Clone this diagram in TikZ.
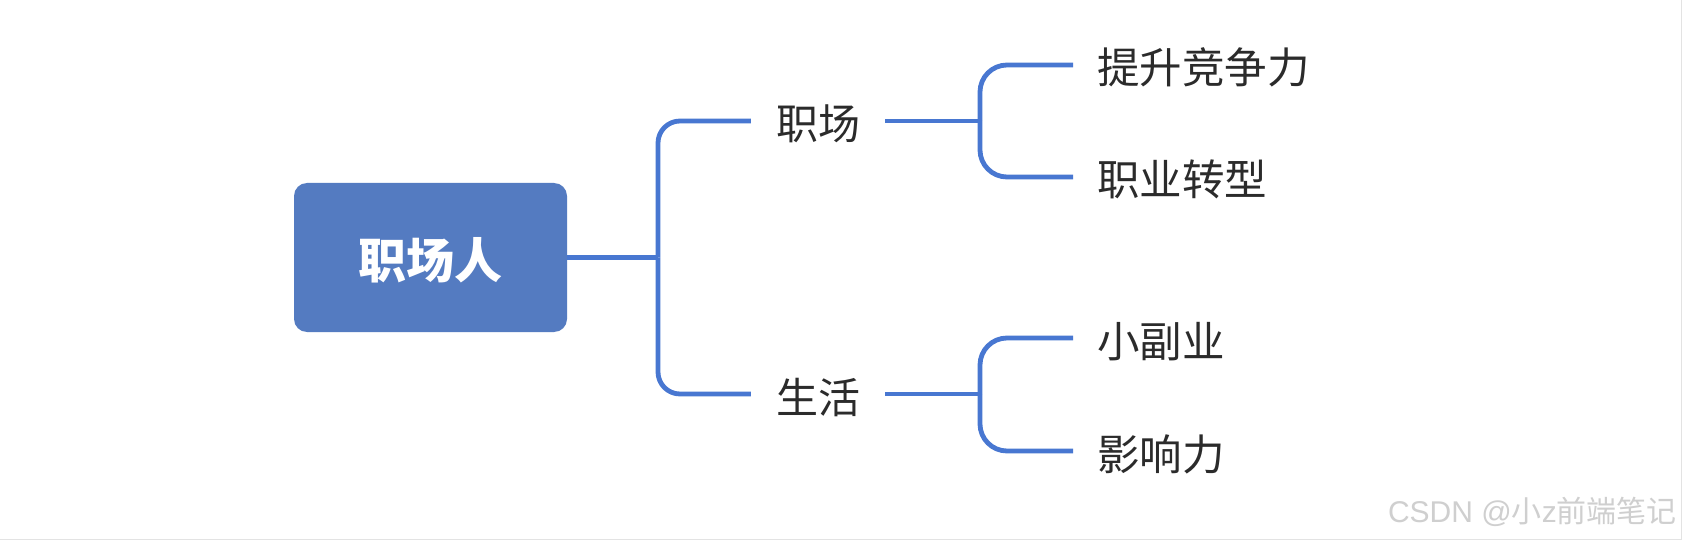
\documentclass[tikz,border=0pt]{standalone}
\usepackage{fontspec}
\setmainfont{Liberation Sans}
\newfontfamily\cjk{Noto Sans CJK SC}
\definecolor{linkblue}{HTML}{4877D1}
\definecolor{rootblue}{HTML}{547BC1}
\definecolor{inkdark}{HTML}{2B2B2B}
\definecolor{markgray}{HTML}{CFCFCF}
\begin{document}
\begin{tikzpicture}[x=1pt,y=-1pt,
  link/.style={draw=linkblue, line width=4.8pt},
  rootbox/.style={fill=rootblue, rounded corners=13pt, minimum width=273pt, minimum height=149pt,
    inner sep=0pt, text=white, font=\cjk\bfseries\fontsize{48}{48}\selectfont,
    text height=43pt, text depth=0pt},
  midtext/.style={inner xsep=25pt, inner ysep=0pt, text=inkdark,
    font=\cjk\fontsize{42}{42}\selectfont, text height=38pt, text depth=0pt},
  leaftext/.style={anchor=west, inner xsep=24pt, inner ysep=0pt, text=inkdark,
    font=\cjk\fontsize{42.5}{42.5}\selectfont, text height=38pt, text depth=0pt},
  markstyle/.style={anchor=east, inner sep=0pt, text=markgray, font=\fontsize{30}{30}\selectfont}
]
\useasboundingbox (0,0) rectangle (1682,540);
\fill[white] (0,0) rectangle (1682,540);
\draw[gray!22, line width=1.5pt] (0,539.25) -- (1681.25,539.25) -- (1681.25,0);

\node[rootbox] (root) at (430.5,257.5) {职场人};
\coordinate (hub) at (658,257.5);
\node[midtext] (work) at (818,121) {职场};
\node[midtext] (life) at (818,394) {生活};
\coordinate (hubA) at (980,121);
\coordinate (hubB) at (980,394);

\node[leaftext] (la) at (1073,65) {提升竞争力};
\node[leaftext] (lb) at (1073,177) {职业转型};
\node[leaftext] (lc) at (1073,338) {小副业};
\node[leaftext] (ld) at (1073,451) {影响力};

\draw[link] (root.east) -- (hub);
\draw[link, rounded corners=22pt] (work.west) -| (hub);
\draw[link, rounded corners=22pt] (life.west) -| (hub);

\draw[link] (work.east) -- (hubA);
\draw[link, rounded corners=27pt] (la.west) -| (hubA);
\draw[link, rounded corners=27pt] (lb.west) -| (hubA);

\draw[link] (life.east) -- (hubB);
\draw[link, rounded corners=27pt] (lc.west) -| (hubB);
\draw[link, rounded corners=27pt] (ld.west) -| (hubB);

\node[markstyle] (mark) at (1677,512) {CSDN @{\cjk 小}z{\cjk 前端笔记}};
\end{tikzpicture}
\end{document}
